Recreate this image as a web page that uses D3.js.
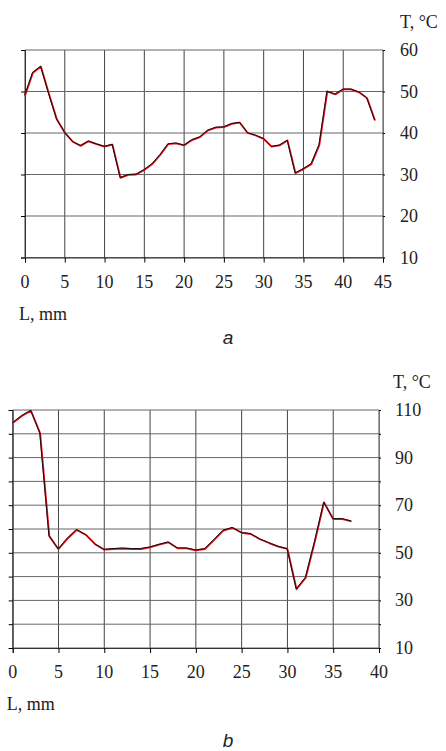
<!DOCTYPE html>
<html>
<head>
<meta charset="utf-8">
<script src="https://cdn.jsdelivr.net/npm/d3@7"></script>
<style>
  body { margin: 0; background: #fff; }
</style>
</head>
<body>
<svg width="446" height="751"></svg>
<script>
// chart a
var lenA = d3.range(0, 45);
var tempA = [49, 54.5, 56, 49.5, 43.3, 40.1, 37.9, 36.9, 38, 37.3, 36.7, 37.2, 29.2, 29.9, 30,
    31.1, 32.5, 34.7, 37.3, 37.5, 37, 38.3, 39, 40.6, 41.3, 41.4, 42.2, 42.5, 40, 39.4, 38.6,
    36.7, 37, 38.2, 30.3, 31.3, 32.5, 37.1, 50, 49.3, 50.5, 50.5, 49.8, 48.4, 43];
var xTicksA = [0, 5, 10, 15, 20, 25, 30, 35, 40, 45];
var yGridA = [10, 20, 30, 40, 50, 60];
var yLabelsA = [10, 20, 30, 40, 50, 60];

// chart b
var lenB = d3.range(0, 38);
var tempB = [104.5, 107.5, 109.7, 100.2, 57, 51.5, 56, 59.6, 57.5, 53.6, 51.3, 51.6, 51.8, 51.6,
    51.6, 52.3, 53.4, 54.4, 51.9, 51.9, 51, 51.6, 55.4, 59.3, 60.5, 58.4, 57.9, 55.7, 54.1, 52.6,
    51.6, 34.7, 39.5, 54.7, 71.2, 64.2, 64.2, 63.2];
var xTicksB = [0, 5, 10, 15, 20, 25, 30, 35, 40];
var yGridB = [10, 20, 30, 40, 50, 60, 70, 80, 90, 100, 110];
var yLabelsB = [10, 30, 50, 70, 90, 110];

var serif = '"Liberation Serif", "Times New Roman", serif';
var svg = d3.select("svg");
svg.append("rect").attr("width", 446).attr("height", 751).attr("fill", "#fff");

function label(sel) {
    return sel.style("font-family", serif).style("font-size", "18px").attr("fill", "#222");
}

function drawChart(opt) {
    var x = d3.scaleLinear().domain(opt.xDomain).range([opt.left, opt.right]);
    var y = d3.scaleLinear().domain(opt.yDomain).range([opt.bottom, opt.top]);
    var g = svg.append("g");

    // grid
    g.selectAll(".vg").data(opt.xTicks).enter().append("line")
        .attr("x1", function(d) { return x(d); }).attr("x2", function(d) { return x(d); })
        .attr("y1", opt.top).attr("y2", opt.bottom)
        .attr("stroke", "#444").attr("stroke-width", 1);
    g.selectAll(".hg").data(opt.yGrid).enter().append("line")
        .attr("x1", opt.left).attr("x2", opt.right)
        .attr("y1", function(d) { return y(d); }).attr("y2", function(d) { return y(d); })
        .attr("stroke", "#666").attr("stroke-width", 1);

    // axes ticks
    var bottomAxis = d3.axisBottom(x).tickValues(opt.xTicks).tickSize(5).tickFormat("");
    g.append("g").attr("transform", "translate(0," + opt.bottom + ")").call(bottomAxis)
        .call(function(s) { s.select(".domain").attr("stroke", "#333"); });
    var leftAxis = d3.axisLeft(y).tickValues(opt.yGrid).tickSize(4).tickFormat("");
    g.append("g").attr("transform", "translate(" + opt.left + ",0)").call(leftAxis)
        .call(function(s) { s.select(".domain").attr("stroke", "#333"); });
    var rightAxis = d3.axisRight(y).tickValues(opt.yGrid).tickSize(2).tickFormat("");
    g.append("g").attr("transform", "translate(" + opt.right + ",0)").call(rightAxis)
        .call(function(s) { s.select(".domain").attr("stroke", "#777"); });

    // labels
    label(g.selectAll(".xl").data(opt.xTicks).enter().append("text"))
        .attr("x", function(d) { return x(d); }).attr("y", opt.bottom + 30)
        .attr("text-anchor", "middle").text(function(d) { return d; });
    label(g.selectAll(".yl").data(opt.yLabels).enter().append("text"))
        .attr("x", opt.right + opt.labelGap).attr("y", function(d) { return y(d) + 6; })
        .text(function(d) { return d; });
    label(g.append("text")).attr("x", opt.right + opt.unitGap).attr("y", opt.top - 22)
        .text("T, °C");
    label(g.append("text")).attr("x", opt.left - 6).attr("y", opt.bottom + 62)
        .text("L, mm");
    g.append("text").attr("x", 228).attr("y", opt.capY)
        .attr("text-anchor", "middle")
        .style("font-family", '"Liberation Sans", Arial, sans-serif')
        .style("font-style", "italic").style("font-size", "19px")
        .attr("fill", "#222").text(opt.caption);

    // curve
    var line = d3.line()
        .x(function(d, i) { return x(opt.xs[i]); })
        .y(function(d) { return y(d); });
    g.append("path").datum(opt.ys).attr("d", line)
        .attr("fill", "none").attr("stroke", "#e8101a").attr("stroke-width", 1.8)
        .attr("stroke-linejoin", "round");
    g.append("path").datum(opt.ys).attr("d", line)
        .attr("transform", "translate(-0.4,-0.4)")
        .attr("fill", "none").attr("stroke", "#111").attr("stroke-width", 1)
        .attr("stroke-linejoin", "round");
}

drawChart({
    xs: lenA, ys: tempA, xDomain: [0, 45], yDomain: [10, 60],
    xTicks: xTicksA, yGrid: yGridA, yLabels: yLabelsA,
    left: 25, right: 383, top: 50, bottom: 257.5,
    labelGap: 17, unitGap: 17, capY: 344, caption: "a"
});

drawChart({
    xs: lenB, ys: tempB, xDomain: [0, 40], yDomain: [10, 110],
    xTicks: xTicksB, yGrid: yGridB, yLabels: yLabelsB,
    left: 12.7, right: 379, top: 410, bottom: 648,
    labelGap: 16, unitGap: 14, capY: 747, caption: "b"
});
</script>
</body>
</html>
